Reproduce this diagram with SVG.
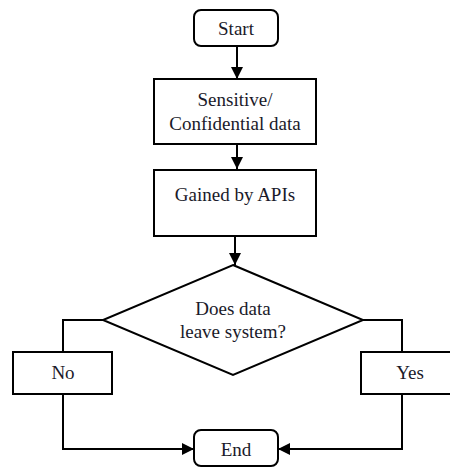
<svg xmlns="http://www.w3.org/2000/svg" width="450" height="467" viewBox="0 0 450 467">
<style>
.box{fill:#fff;stroke:#000;stroke-width:2}
.ln{fill:none;stroke:#000;stroke-width:2}
text{font-family:'Liberation Serif','Times New Roman',serif;font-size:19px;fill:#1a1a2a;text-anchor:middle}
</style>
<defs>
<marker id="ah" viewBox="0 0 12 12" refX="12" refY="6" markerWidth="12" markerHeight="12" markerUnits="userSpaceOnUse" orient="auto">
<path d="M0,0 L12,6 L0,12 Z" fill="#000"/>
</marker>
</defs>
<rect width="450" height="467" fill="#fff"/>
<g id="connectors">
<path class="ln" d="M237,46 V79" marker-end="url(#ah)"/>
<path class="ln" d="M237,144 V169" marker-end="url(#ah)"/>
<path class="ln" d="M235,236 V265" marker-end="url(#ah)"/>
<path class="ln" d="M103,320 H63 V352"/>
<path class="ln" d="M63,394 V449 H194" marker-end="url(#ah)"/>
<path class="ln" d="M363,320 H402 V352"/>
<path class="ln" d="M402,394 V449 H278" marker-end="url(#ah)"/>
</g>
<g id="start">
<rect class="box" x="194" y="10" width="84" height="36" rx="7"/>
<text x="236" y="35">Start</text>
</g>
<g id="sensitive">
<rect class="box" x="154" y="79" width="162" height="65"/>
<text x="235" y="106">Sensitive/</text>
<text x="235" y="130">Confidential data</text>
</g>
<g id="gained">
<rect class="box" x="154" y="170" width="162" height="66"/>
<text x="235" y="201">Gained by APIs</text>
</g>
<g id="decision">
<polygon class="box" points="233,265 363,320 233,375 103,320"/>
<text x="233" y="315">Does data</text>
<text x="233" y="338">leave system?</text>
</g>
<g id="no">
<rect class="box" x="13" y="352" width="99" height="42"/>
<text x="63" y="379">No</text>
</g>
<g id="yes">
<rect class="box" x="361" y="352" width="100" height="42"/>
<text x="410" y="379">Yes</text>
</g>
<g id="end">
<rect class="box" x="194" y="430" width="84" height="36" rx="7"/>
<text x="236" y="456">End</text>
</g>
</svg>
